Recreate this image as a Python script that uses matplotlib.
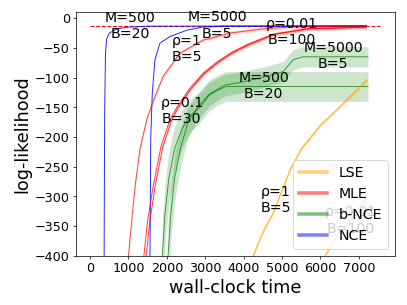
import numpy as np
import matplotlib
matplotlib.use('Agg')
import matplotlib.pyplot as plt

# NCE (blue)
nce_m500_t = [365, 370, 380, 400, 430, 500, 700, 1000, 1500, 7200]
nce_m500_ll = [-400, -300, -150, -60, -35, -25, -18, -15, -13.5, -13]
nce_m5000_t = [1560, 1580, 1620, 1690, 1820, 2080, 2530, 2940, 3500, 7200]
nce_m5000_ll = [-400, -200, -126, -70, -42, -31, -20, -15, -13.5, -13]

# MLE (red)
mle_r1_t = [1000, 1100, 1170, 1300, 1475, 1640, 1900, 2340, 2940, 3650, 4500, 5200, 7200]
mle_r1_ll = [-400, -330, -284, -220, -171, -140, -98, -59, -37, -25, -18, -15, -13.5]
mle_r01_t = [1400, 1500, 1650, 1850, 2080, 2260, 2600, 2940, 3300, 3650, 4110, 4770, 5650, 7200]
mle_r01_ll = [-400, -340, -280, -215, -171, -150, -118, -93, -74, -59, -44, -27, -18, -15]
mle_r001_t = [1460, 1560, 1700, 1900, 2130, 2300, 2640, 2980, 3350, 3700, 4160, 4820, 5700, 7200]
mle_r001_ll = [-400, -340, -280, -215, -171, -150, -118, -93, -74, -59, -44, -27, -18, -15]

# b-NCE (green)
bnce_m500_t = [1880, 1950, 2050, 2200, 2400, 2600, 2860, 3100, 3300, 3540, 7240]
bnce_m500_ll = [-400, -330, -270, -220, -185, -165, -150, -130, -122, -115, -115]
bnce_m500_sd = [55, 50, 45, 38, 32, 28, 26, 26, 25, 25, 25]
bnce_m5000_t = [2030, 2100, 2200, 2350, 2550, 2800, 3100, 3500, 4000, 4600, 5030, 5290, 5550, 7240]
bnce_m5000_ll = [-400, -330, -270, -220, -175, -150, -128, -113, -107, -98, -90, -70, -65, -65]
bnce_m5000_sd = [50, 45, 40, 32, 26, 22, 20, 18, 18, 17, 17, 17, 17, 17]

# LSE (orange)
lse_r1_t = [4250, 4500, 4770, 5000, 5210, 5500, 6000, 6330, 6850, 7210]
lse_r1_ll = [-400, -360, -328, -290, -255, -220, -180, -160, -127, -104]
lse_r001_t = [6120, 6400, 6700, 7000, 7210]
lse_r001_ll = [-400, -370, -345, -320, -300]

true_t = [0, 7560]
true_ll = [-13, -13]

labels = [
    ('M=500\nB=20', 1050, -13),
    ('M=5000\nB=5', 3310, -12),
    ('\u03c1=1\nB=5', 2520, -51),
    ('\u03c1=0.1\nB=30', 2390, -156),
    ('\u03c1=0.01\nB=100', 5250, -23),
    ('M=5000\nB=5', 6330, -63),
    ('M=500\nB=20', 4520, -114),
    ('\u03c1=1\nB=5', 4840, -306),
    ('\u03c1=0.01\nB=100', 6800, -340),
]

fig, ax = plt.subplots(figsize=(6.4, 4.8), dpi=63.6)
fig.subplots_adjust(left=0.187, right=0.970, bottom=0.161, top=0.961)

ax.plot(true_t, true_ll, '--', color='red', lw=1.2)

for t, ll in [(nce_m500_t, nce_m500_ll), (nce_m5000_t, nce_m5000_ll)]:
    ax.plot(t, ll, color='blue', lw=1.1, alpha=0.85)

for t, ll in [(mle_r1_t, mle_r1_ll), (mle_r01_t, mle_r01_ll), (mle_r001_t, mle_r001_ll)]:
    ll = np.array(ll)
    ax.fill_between(t, ll - 3, ll + 3, color='red', alpha=0.15, lw=0)
    ax.plot(t, ll, color='red', lw=1.1, alpha=0.75)

for t, ll, sd in [(bnce_m500_t, bnce_m500_ll, bnce_m500_sd),
                  (bnce_m5000_t, bnce_m5000_ll, bnce_m5000_sd)]:
    ll = np.array(ll)
    sd = np.array(sd)
    ax.fill_between(t, ll - sd, ll + sd, color='green', alpha=0.2, lw=0)
    ax.plot(t, ll, color='green', lw=1.0, alpha=0.8)

for t, ll in [(lse_r1_t, lse_r1_ll), (lse_r001_t, lse_r001_ll)]:
    ll = np.array(ll)
    ax.fill_between(t, ll - 3, ll + 3, color='orange', alpha=0.3, lw=0)
    ax.plot(t, ll, color='orange', lw=1.1, alpha=0.85)

for txt, x, y in labels:
    ax.text(x, y, txt, ha='center', va='center', fontsize=16)

ax.plot([], [], color='orange', lw=4, alpha=0.5, label='LSE')
ax.plot([], [], color='red', lw=4, alpha=0.5, label='MLE')
ax.plot([], [], color='green', lw=4, alpha=0.5, label='b-NCE')
ax.plot([], [], color='blue', lw=4, alpha=0.5, label='NCE')
ax.legend(loc='lower right', fontsize=16)

ax.set_xlim(-365, 7940)
ax.set_ylim(-400, 11)
ax.set_xticks(range(0, 8000, 1000))
ax.tick_params(labelsize=14.5)
ax.set_xlabel('wall-clock time', fontsize=20)
ax.set_ylabel('log-likelihood', fontsize=20)

fig.savefig('out.png', dpi=63.6)
